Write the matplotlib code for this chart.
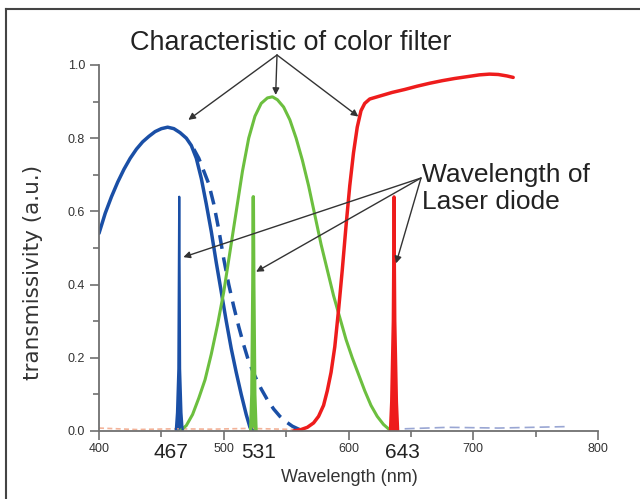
import matplotlib
matplotlib.use("Agg")
import matplotlib.pyplot as plt
from matplotlib.lines import Line2D

# ---- data ----
blue_x = [400, 405, 410, 415, 420, 425, 430, 435, 440, 445, 450, 455, 460, 465, 470, 474, 478, 482, 486, 490,
          494, 498, 502, 506, 510, 514, 518, 521, 523]
blue_y = [0.54, 0.595, 0.64, 0.68, 0.715, 0.745, 0.77, 0.79, 0.805, 0.818, 0.826, 0.83, 0.826, 0.815, 0.80,
          0.78, 0.745, 0.69, 0.62, 0.545, 0.46, 0.38, 0.30, 0.225, 0.16, 0.10, 0.045, 0.01, 0.0]

blue_dash_x = [476, 480, 484, 488, 492, 496, 500, 504, 508, 512, 516, 520, 525, 530, 535, 540, 545, 550, 555, 560, 564]
blue_dash_y = [0.77, 0.745, 0.71, 0.675, 0.62, 0.55, 0.47, 0.40, 0.34, 0.285, 0.235, 0.19, 0.15, 0.115, 0.085,
               0.06, 0.04, 0.025, 0.013, 0.005, 0.0]

green_x = [465, 470, 475, 480, 485, 490, 495, 500, 505, 510, 515, 520, 525, 530, 535, 539, 543, 548, 553, 558,
           563, 568, 573, 578, 583, 588, 593, 598, 603, 608, 613, 618, 623, 628, 634]
green_y = [0.0, 0.015, 0.045, 0.09, 0.14, 0.21, 0.29, 0.38, 0.49, 0.60, 0.71, 0.80, 0.86, 0.895, 0.91, 0.913,
           0.905, 0.885, 0.85, 0.80, 0.74, 0.67, 0.59, 0.51, 0.44, 0.37, 0.31, 0.25, 0.20, 0.155, 0.11, 0.07,
           0.04, 0.018, 0.0]

red_x = [556, 562, 567, 572, 576, 580, 583, 586, 589, 592, 595, 598, 601, 604, 607, 610, 613, 617, 625, 635,
         645, 655, 665, 675, 685, 695, 705, 713, 720, 727, 732]
red_y = [0.0, 0.004, 0.01, 0.022, 0.04, 0.07, 0.11, 0.16, 0.23, 0.33, 0.44, 0.56, 0.67, 0.76, 0.83, 0.875,
         0.895, 0.907, 0.915, 0.925, 0.933, 0.942, 0.95, 0.957, 0.963, 0.968, 0.973, 0.975, 0.974, 0.97, 0.966]

blue_laser_x = [461.5, 462.5, 463.6, 464.3, 465.0, 466.1, 467.1]
blue_laser_y = [0.0, 0.05, 0.17, 0.64, 0.17, 0.05, 0.0]
green_laser_x = [521.5, 522.5, 523.3, 523.7, 524.1, 524.9, 525.9]
green_laser_y = [0.0, 0.10, 0.40, 0.64, 0.40, 0.10, 0.0]
red_laser_x = [633.5, 634.5, 635.8, 636.5, 637.2, 638.5, 639.5]
red_laser_y = [0.0, 0.08, 0.30, 0.64, 0.30, 0.08, 0.0]

noise_low_x = [400, 430, 460, 490, 520, 560]
noise_low_y = [0.008, 0.004, 0.006, 0.005, 0.007, 0.004]
noise_high_x = [645, 680, 720, 775]
noise_high_y = [0.006, 0.010, 0.008, 0.012]

x_ticks = [400, 500, 600, 700, 800]
y_ticks = [0.0, 0.2, 0.4, 0.6, 0.8, 1.0]
laser_labels = ["467", "531", "643"]
laser_label_pos = [458, 528, 643]

BLUE = "#1a4fa6"
GREEN = "#6cbf3f"
RED = "#ee1c1c"
DARK = "#333333"

fig = plt.figure(figsize=(6.4, 4.99), dpi=100)
ax = fig.add_axes([0.1547, 0.1363, 0.7797, 0.7335])

ax.plot(noise_low_x, noise_low_y, color="#f0a080", lw=1.2, ls=(0, (3, 2)), alpha=0.8)
ax.plot(noise_high_x, noise_high_y, color="#8090c8", lw=1.2, ls=(0, (6, 3)), alpha=0.8)

kw = dict(solid_joinstyle="round", solid_capstyle="round")
ax.plot(blue_x, blue_y, color=BLUE, lw=2.5, **kw)
ax.plot(blue_dash_x, blue_dash_y, color=BLUE, lw=2.5, ls=(0, (4, 2.5)), dash_joinstyle="round")
ax.plot(green_x, green_y, color=GREEN, lw=2.2, **kw)
ax.plot(red_x, red_y, color=RED, lw=2.5, **kw)

for lx, ly, c, w in [(blue_laser_x, blue_laser_y, BLUE, 1.6), (green_laser_x, green_laser_y, GREEN, 2.4),
                     (red_laser_x, red_laser_y, RED, 2.2)]:
    ax.fill(lx, ly, color=c, lw=0)
    ax.plot(lx, ly, color=c, lw=w)

ax.set_xlim(400, 800)
ax.set_ylim(0, 1.0)
ax.spines["top"].set_visible(False)
ax.spines["right"].set_visible(False)
for s in ["left", "bottom"]:
    ax.spines[s].set_color("#707070")
    ax.spines[s].set_linewidth(1.3)
ax.set_xticks(x_ticks)
ax.set_xticks([450, 550, 650, 750], minor=True)
ax.set_yticks(y_ticks)
ax.set_yticks([0.1, 0.3, 0.5, 0.7, 0.9], minor=True)
ax.set_yticklabels([f"{v:.1f}" for v in y_ticks])
ax.tick_params(axis="both", which="major", direction="out", length=6.5, width=1.2, color="#707070",
               labelsize=9, labelcolor="#333333")
ax.tick_params(axis="x", which="major", pad=2)
ax.tick_params(axis="both", which="minor", direction="out", length=4, width=1.2, color="#707070")
for lab in ax.get_xticklabels() + ax.get_yticklabels():
    lab.set_family("Liberation Sans")

ax.set_xlabel("Wavelength (nm)", fontsize=13, family="Liberation Sans", color="#333333")
ax.xaxis.set_label_coords(0.501, -0.128)
ax.xaxis.label.set_verticalalignment("center")
ax.set_ylabel("transmissivity (a.u.)", fontsize=15.5, family="DejaVu Sans", color="#333333")
ax.yaxis.set_label_coords(-0.132, 0.432)
ax.yaxis.label.set_verticalalignment("center")

for lbl, xp in zip(laser_labels, laser_label_pos):
    ax.text(xp, -0.06, lbl, fontsize=15, family="Liberation Sans", color="#222222",
            ha="center", va="center", transform=ax.transData, clip_on=False)

def fp(x, y):
    return (x / 640.0, 1 - y / 499.0)

fig.text(*fp(291, 43), "Characteristic of color filter", fontsize=19.5, family="Liberation Sans",
         color="#222222", ha="center", va="center")
fig.text(*fp(422, 163), "Wavelength of\nLaser diode", fontsize=19, family="Liberation Sans",
         color="#222222", ha="left", va="top", linespacing=1.15)

arrow = dict(arrowstyle="-|>", color=DARK, lw=1.0, mutation_scale=10, shrinkA=0, shrinkB=0)
for tip in [(471.6, 0.85), (541.6, 0.918), (607.9, 0.859)]:
    ax.annotate("", xy=tip, xycoords="data", xytext=fp(277, 55), textcoords="figure fraction",
                arrowprops=arrow, annotation_clip=False)
for tip in [(467.6, 0.475), (525.9, 0.435), (638.1, 0.458)]:
    ax.annotate("", xy=tip, xycoords="data", xytext=fp(421, 178), textcoords="figure fraction",
                arrowprops=arrow, annotation_clip=False)

# frame lines (top and left border)
fig.add_artist(Line2D([6 / 640, 1.0], [1 - 9 / 499, 1 - 9 / 499], transform=fig.transFigure, color="#444444", lw=1.5))
fig.add_artist(Line2D([6 / 640, 6 / 640], [0, 1 - 9 / 499], transform=fig.transFigure, color="#444444", lw=1.5))

fig.savefig("out.png", dpi=100)
